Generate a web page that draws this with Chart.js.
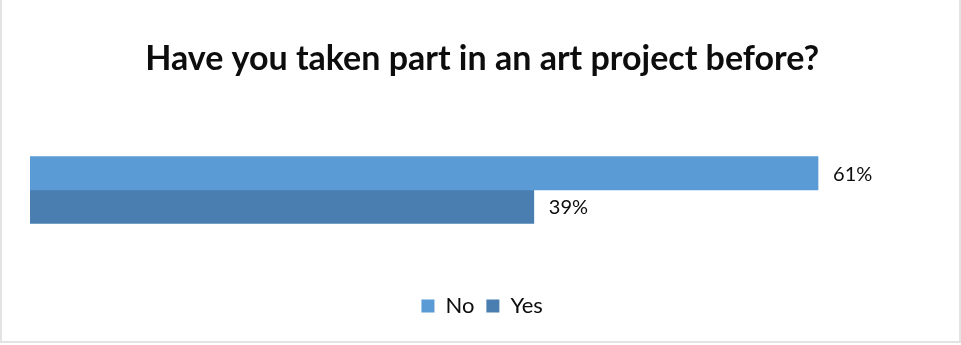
<!DOCTYPE html>
<html>
<head>
<meta charset="utf-8">
<script src="https://cdn.jsdelivr.net/npm/chart.js@4/dist/chart.umd.min.js"></script>
<style>
  html, body { margin: 0; padding: 0; background: #fff; }
  #wrap { position: relative; width: 961px; height: 345px; }
  #frame {
    position: absolute; left: 0; top: -2px; width: 961px; height: 345px;
    border: 2px solid #e3e3e3; box-sizing: border-box; pointer-events: none;
  }
  canvas { position: absolute; left: 0; top: 0; }
</style>
</head>
<body>
<div id="wrap">
  <canvas id="answers" width="961" height="345"></canvas>
  <div id="frame"></div>
</div>
<script>
/* ===== DATA ===== */
const TITLE = "Have you taken part in an art project before?";
const CATEGORIES = [""];
const SERIES_NAMES = ["No", "Yes"];
const NO_VALUES = [61];
const YES_VALUES = [39];
const COLORS = ["#5b9bd5", "#4a7eb0"];

/* ===== VALUE LABELS (drawn after the bars) ===== */
const valueLabels = {
  id: "valueLabels",
  afterDatasetsDraw(chart) {
    const ctx = chart.ctx;
    ctx.save();
    ctx.font = "20px Lato";
    ctx.fillStyle = "#0d0d0d";
    ctx.textBaseline = "middle";
    ctx.textAlign = "left";
    chart.data.datasets.forEach((ds, i) => {
      chart.getDatasetMeta(i).data.forEach((bar, j) => {
        ctx.fillText(ds.data[j] + "%", bar.x + 15, bar.y + 1);
      });
    });
    ctx.restore();
  },
};

/* ===== CHART ===== */
new Chart(document.getElementById("answers"), {
  type: "bar",
  data: {
    labels: CATEGORIES,
    datasets: [
      { label: SERIES_NAMES[0], data: NO_VALUES, backgroundColor: COLORS[0] },
      { label: SERIES_NAMES[1], data: YES_VALUES, backgroundColor: COLORS[1] },
    ],
  },
  options: {
    indexAxis: "y",
    responsive: false,
    animation: false,
    barThickness: 33.5,
    layout: { padding: { left: 30, right: 26.7, top: 0, bottom: 18 } },
    scales: {
      x: { display: false, min: 0, max: 70 },
      y: { display: false },
    },
    plugins: {
      title: {
        display: true,
        text: TITLE,
        color: "#0d0d0d",
        font: { family: "Lato", size: 34, weight: "bold" },
        padding: { top: 39, bottom: 17.2 },
      },
      legend: {
        position: "bottom",
        labels: {
          boxWidth: 13,
          boxHeight: 13,
          padding: 12,
          color: "#0d0d0d",
          font: { family: "Lato", size: 22 },
        },
      },
      tooltip: { enabled: false },
    },
  },
  plugins: [valueLabels],
});
</script>
</body>
</html>
